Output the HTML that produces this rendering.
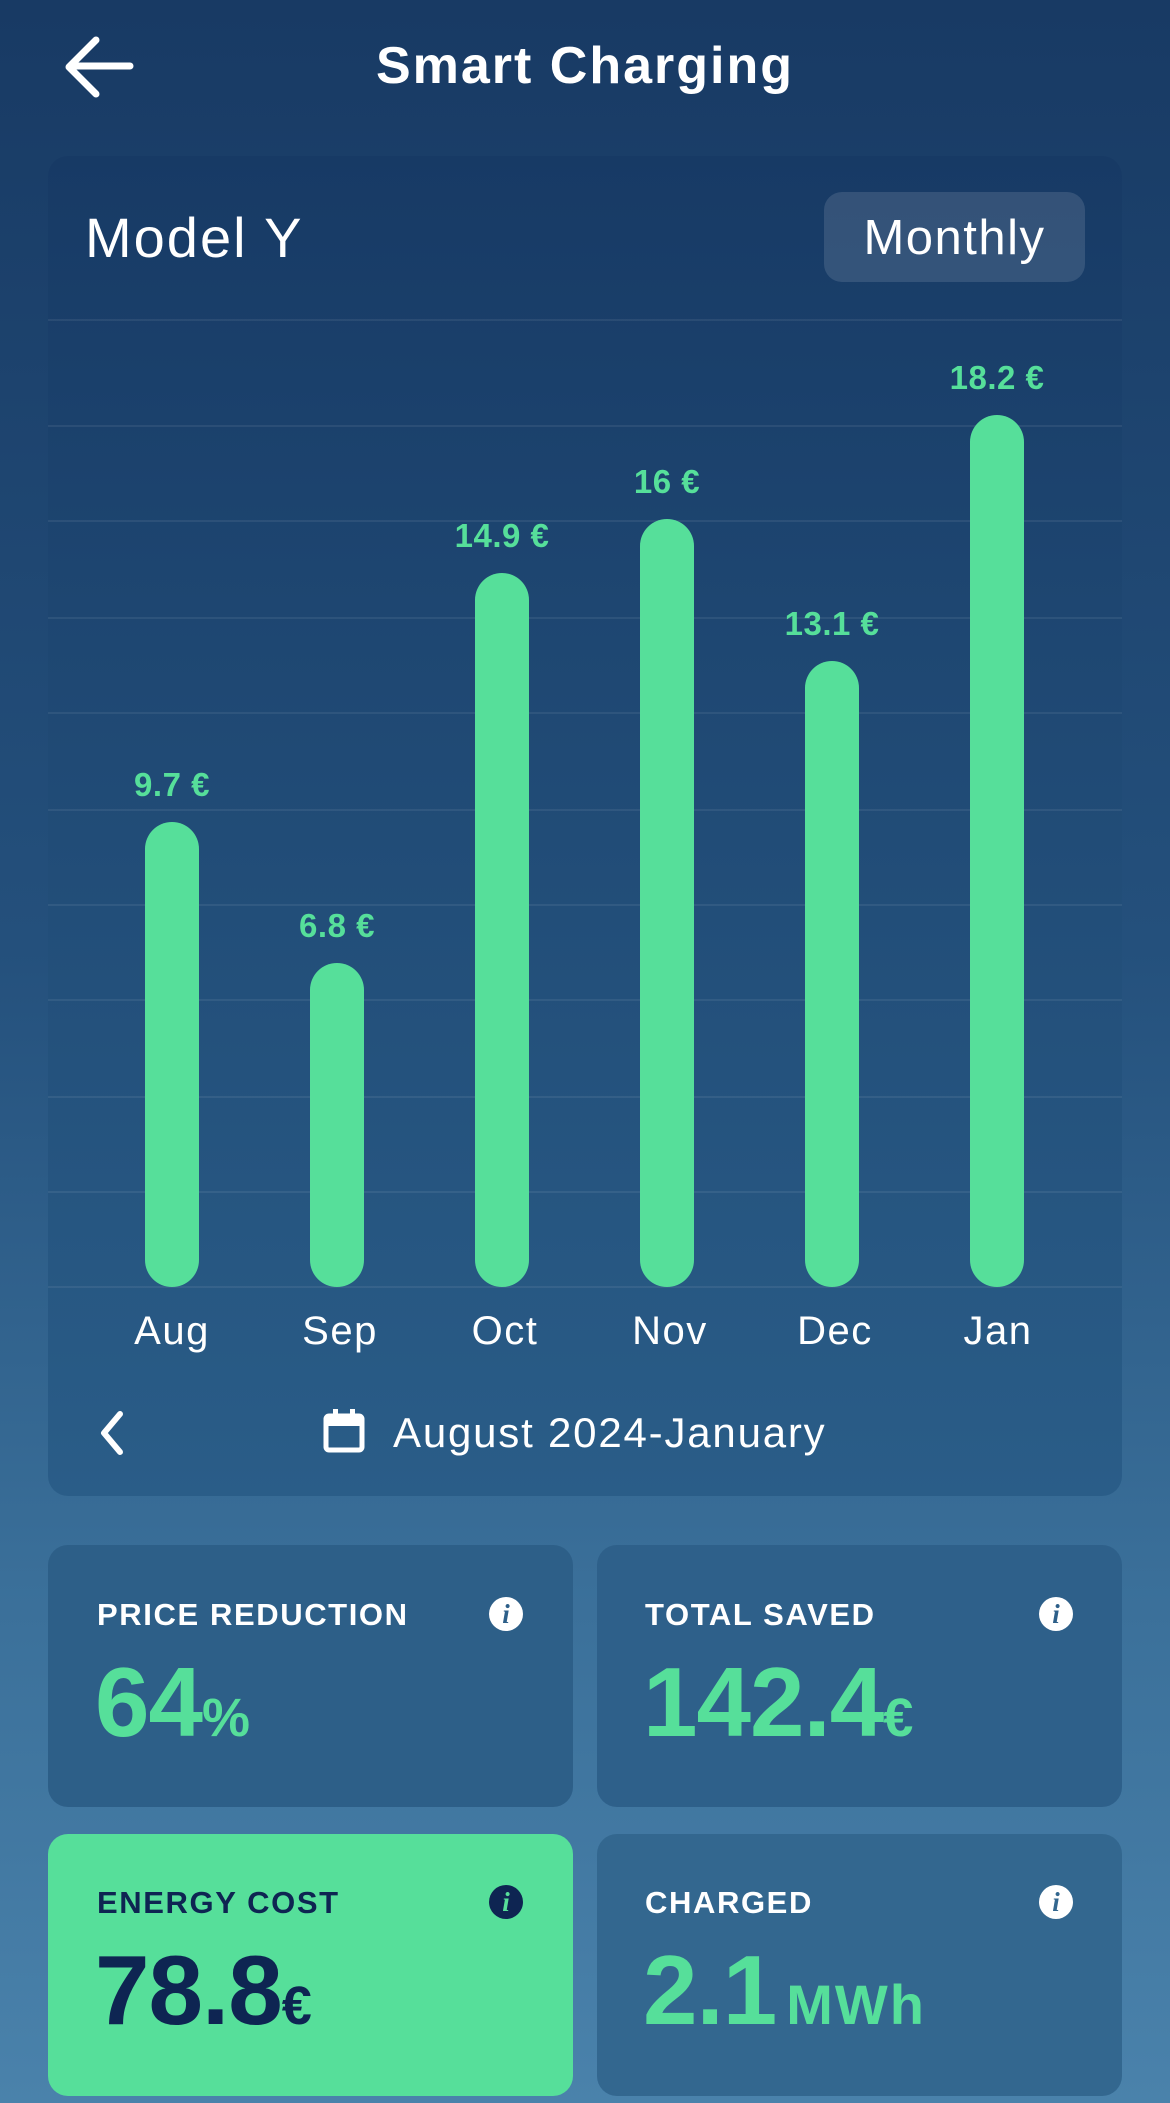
<!DOCTYPE html>
<html><head><meta charset="utf-8"><style>
*{margin:0;padding:0;box-sizing:border-box}
body{width:1170px;height:2103px;overflow:hidden;font-family:"Liberation Sans",sans-serif;background:linear-gradient(180deg,#183a64 0%,#24507c 45%,#3a6f99 75%,#4a82ab 100%);position:relative;color:#fff}
.a{position:absolute}
.card{position:absolute;border-radius:20px}
.grid{position:absolute;left:48px;width:1074px;height:2px;background:rgba(255,255,255,0.07)}
.bar{position:absolute;width:54px;border-radius:27px;background:#56df9a}
.val{position:absolute;width:180px;text-align:center;font-weight:bold;font-size:33px;color:#56df9a;letter-spacing:0.5px}
.mon{position:absolute;width:140px;text-align:center;font-size:40px;top:1309px;color:#fff;letter-spacing:1.5px}
.lab{position:absolute;font-weight:bold;font-size:31px;letter-spacing:1.6px}
.info{position:absolute;width:34px;height:34px;border-radius:50%;background:#fff;color:#2d5f89;font-family:"Liberation Serif",serif;font-style:italic;font-weight:bold;font-size:27px;text-align:center;line-height:34px}
.big{position:absolute;font-weight:bold;font-size:98px;color:#56df9a;letter-spacing:-1px;line-height:1}
.big span{font-size:54px;letter-spacing:0}
</style></head><body>
<svg class="a" style="left:62px;top:36px" width="72" height="64" viewBox="0 0 72 64"><path d="M68 30H8M34 4L7 31l27 27" stroke="#fff" stroke-width="7" fill="none" stroke-linecap="round" stroke-linejoin="round"/></svg>
<div class="a" style="left:0;width:1170px;text-align:center;top:36px;font-size:52px;font-weight:bold;letter-spacing:2px">Smart Charging</div>

<div class="card" style="left:48px;top:156px;width:1074px;height:1340px;background:linear-gradient(180deg,#173a65 0%,#204a75 45%,#2a5d88 100%)"></div>
<div class="a" style="left:85px;top:205px;font-size:56px;letter-spacing:2px">Model Y</div>
<div class="card" style="left:824px;top:192px;width:261px;height:90px;border-radius:18px;background:rgba(255,255,255,0.12)"></div>
<div class="a" style="left:824px;width:261px;text-align:center;top:210px;font-size:49px;letter-spacing:1.5px">Monthly</div>

<div class="grid" style="top:319px"></div>
<div class="grid" style="top:425px"></div>
<div class="grid" style="top:520px"></div>
<div class="grid" style="top:617px"></div>
<div class="grid" style="top:712px"></div>
<div class="grid" style="top:809px"></div>
<div class="grid" style="top:904px"></div>
<div class="grid" style="top:999px"></div>
<div class="grid" style="top:1096px"></div>
<div class="grid" style="top:1191px"></div>
<div class="grid" style="top:1286px"></div>

<div class="bar" style="left:145px;top:822px;height:465px"></div>
<div class="bar" style="left:310px;top:963px;height:324px"></div>
<div class="bar" style="left:475px;top:573px;height:714px"></div>
<div class="bar" style="left:640px;top:519px;height:768px"></div>
<div class="bar" style="left:805px;top:661px;height:626px"></div>
<div class="bar" style="left:970px;top:415px;height:872px"></div>

<div class="val" style="left:82px;top:766px">9.7 €</div>
<div class="val" style="left:247px;top:907px">6.8 €</div>
<div class="val" style="left:412px;top:517px">14.9 €</div>
<div class="val" style="left:577px;top:463px">16 €</div>
<div class="val" style="left:742px;top:605px">13.1 €</div>
<div class="val" style="left:907px;top:359px">18.2 €</div>

<div class="mon" style="left:102px">Aug</div>
<div class="mon" style="left:270px">Sep</div>
<div class="mon" style="left:435px">Oct</div>
<div class="mon" style="left:600px">Nov</div>
<div class="mon" style="left:765px">Dec</div>
<div class="mon" style="left:928px">Jan</div>

<svg class="a" style="left:96px;top:1408px" width="32" height="50" viewBox="0 0 32 50"><path d="M24 6L8 25l16 19" stroke="#fff" stroke-width="6" fill="none" stroke-linecap="round" stroke-linejoin="round"/></svg>
<svg class="a" style="left:323px;top:1407px" width="42" height="48" viewBox="0 0 42 48"><rect x="3" y="9" width="36" height="34" rx="3" stroke="#fff" stroke-width="5" fill="none"/><rect x="3" y="9" width="36" height="10" fill="#fff"/><rect x="10" y="2" width="5" height="10" fill="#fff"/><rect x="27" y="2" width="5" height="10" fill="#fff"/></svg>
<div class="a" style="left:393px;top:1409px;font-size:42px;letter-spacing:1.8px">August 2024-January</div>

<div class="card" style="left:48px;top:1545px;width:525px;height:262px;background:#2d5f88"></div>
<div class="card" style="left:597px;top:1545px;width:525px;height:262px;background:#2e608a"></div>
<div class="card" style="left:48px;top:1834px;width:525px;height:262px;background:#56df9a"></div>
<div class="card" style="left:597px;top:1834px;width:525px;height:262px;background:#33678f"></div>

<div class="lab" style="left:97px;top:1597px">PRICE REDUCTION</div>
<div class="info" style="left:489px;top:1597px">i</div>
<div class="big" style="left:95px;top:1653px">64<span>%</span></div>

<div class="lab" style="left:645px;top:1597px">TOTAL SAVED</div>
<div class="info" style="left:1039px;top:1597px">i</div>
<div class="big" style="left:643px;top:1653px">142.4<span>€</span></div>

<div class="lab" style="left:97px;top:1885px;color:#0e2552">ENERGY COST</div>
<div class="info" style="left:489px;top:1885px;background:#0e2552;color:#56df9a">i</div>
<div class="big" style="left:95px;top:1941px;color:#0e2552">78.8<span>€</span></div>

<div class="lab" style="left:645px;top:1885px">CHARGED</div>
<div class="info" style="left:1039px;top:1885px;color:#33678f">i</div>
<div class="big" style="left:643px;top:1941px">2.1<span style="font-size:56px;margin-left:10px;letter-spacing:2px">MWh</span></div>
</body></html>
